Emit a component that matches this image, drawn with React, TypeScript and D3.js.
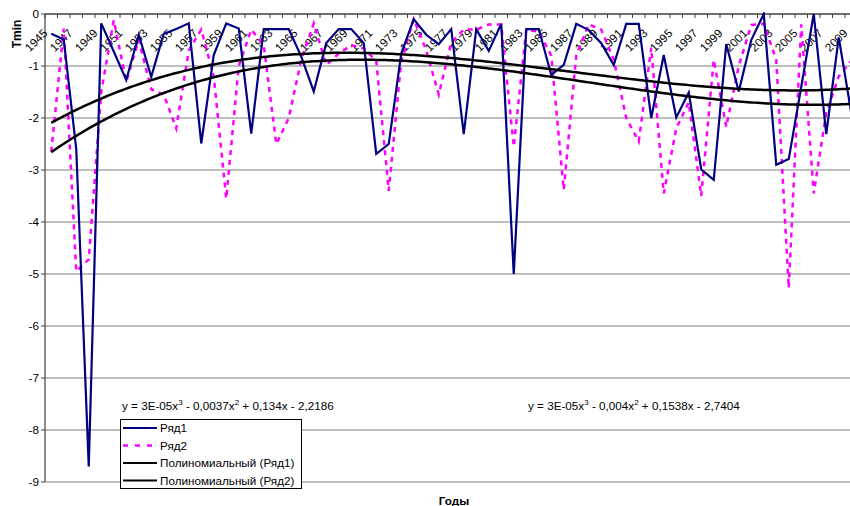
import React from "react";
import * as d3 from "d3";

const years = d3.range(1945, 2010);

const ryad1 = [
  -0.38, -0.49, -2.6, -8.7, -0.18, -0.72, -1.27, -0.4, -1.21, -0.38,
  -0.29, -0.18, -2.49, -0.79, -0.18, -0.28, -2.3, -0.29, -0.29, -0.29,
  -0.82, -1.49, -0.56, -0.29, -0.29, -0.56, -2.69, -2.5, -0.76, -0.1,
  -0.4, -0.58, -0.29, -2.31, -0.29, -0.71, -0.19, -5.0, -0.29, -0.29,
  -1.17, -0.98, -0.19, -0.31, -0.56, -0.98, -0.19, -0.19, -2.0, -0.79,
  -1.99, -1.51, -2.99, -3.19, -0.58, -1.49, -0.5, 0.0, -2.9, -2.79,
  -1.4, 0.0, -2.31, -0.45, -1.9,
];

const ryad2 = [
  -2.65, -0.28, -4.95, -4.72, -1.5, -0.12, -1.3, -0.5, -1.45, -1.55,
  -2.2, -0.7, -0.3, -1.2, -3.55, -1.0, -0.3, -0.6, -2.5, -2.0,
  -0.88, -0.18, -0.98, -0.76, -0.6, -0.66, -0.9, -3.4, -0.9, -0.1,
  -0.7, -1.55, -0.55, -0.3, -0.3, -0.2, -0.2, -2.55, -0.3, -0.34,
  -0.8, -3.38, -0.8, -0.2, -0.3, -0.88, -2.0, -2.45, -0.65, -3.45,
  -2.2, -1.7, -3.5, -0.88, -2.17, -1.0, -0.21, -0.19, -0.88, -5.27,
  -0.2, -3.45, -1.9, -1.2, -0.9,
];

const yTicks = [0, -1, -2, -3, -4, -5, -6, -7, -8, -9];
const seriesNames = ["Ряд1", "Ряд2", "Полиномиальный (Ряд1)", "Полиномиальный (Ряд2)"];
const eq1 = ["y = 3E-05x", "3", " - 0,0037x", "2", " + 0,134x - 2,2186"];
const eq2 = ["y = 3E-05x", "3", " - 0,004x", "2", " + 0,1538x - 2,7404"];

if (typeof document !== "undefined") document.body.style.margin = "0";

// least squares cubic, x = 1..n like Excel trendline
function cubicCoef(vals: number[]) {
  const n = 4;
  const A = d3.range(n).map(() => new Array(n + 1).fill(0));
  vals.forEach((v, i) => {
    const x = i + 1;
    for (let r = 0; r < n; r++) {
      for (let c = 0; c < n; c++) A[r][c] += Math.pow(x, r + c);
      A[r][n] += v * Math.pow(x, r);
    }
  });
  for (let p = 0; p < n; p++) {
    let m = p;
    for (let r = p + 1; r < n; r++) if (Math.abs(A[r][p]) > Math.abs(A[m][p])) m = r;
    [A[p], A[m]] = [A[m], A[p]];
    for (let r = 0; r < n; r++) {
      if (r === p) continue;
      const f = A[r][p] / A[p][p];
      for (let c = p; c <= n; c++) A[r][c] -= f * A[p][c];
    }
  }
  return A.map((row, i) => row[n] / row[i]);
}
const poly = (c: number[]) => (x: number) => c[0] + c[1] * x + c[2] * x * x + c[3] * x * x * x;

const W = 850, H = 506;
const left = 45, top = 14, bottom = 482;
const band = 12.5;
const font = "'Liberation Sans', Arial, sans-serif";
const fs = 11.7;

export default function App() {
  const x = d3.scaleBand<number>().domain(years).range([left, left + years.length * band]);
  const cx = (i: number) => (x(years[i]) as number) + x.bandwidth() / 2;
  const y = d3.scaleLinear().domain([-9, 0]).range([bottom, top]);
  // continuous position for trendline, t = 1..n
  const xt = d3.scaleLinear().domain([1, years.length]).range([cx(0), cx(years.length - 1)]);

  const line = d3.line<number>().x((_, i) => cx(i)).y((d) => y(d));
  const c1 = cubicCoef(ryad1);
  const c2 = cubicCoef(ryad2);
  const trendLine = (f: (x: number) => number) =>
    d3.line<number>().x((t) => xt(t)).y((t) => y(f(t)))(d3.range(1, years.length + 0.01, 0.25));

  const right = W;
  const legendY = [428, 445.5, 463, 480.5];

  return (
    <svg width={W} height={H} style={{ display: "block" }} fontFamily={font}>
      <rect width={W} height={H} fill="#fff" />
      <defs>
        <clipPath id="plot">
          <rect x={left} y={top - 2} width={right - left} height={bottom - top + 4} />
        </clipPath>
      </defs>
      {yTicks.map((t) => (
        <g key={t}>
          {t !== 0 && <line x1={left} x2={right} y1={y(t)} y2={y(t)} stroke="#808080" strokeWidth={1.2} />}
          <line x1={left - 4} x2={left} y1={y(t)} y2={y(t)} stroke="#404040" />
          <text x={left - 6} y={y(t)} dy="0.35em" textAnchor="end" fontSize={fs} fill="#000">
            {t}
          </text>
        </g>
      ))}
      <line x1={left} x2={left} y1={top} y2={bottom} stroke="#404040" strokeWidth={1.2} />
      <line x1={left} x2={right} y1={top} y2={top} stroke="#404040" strokeWidth={1.5} />
      {d3.range(years.length + 1).map((k) => (
        <line key={k} x1={left + k * band} x2={left + k * band} y1={top} y2={top + 4} stroke="#404040" />
      ))}
      {years.map((yr, i) =>
        i % 2 === 0 ? (
          <text key={yr} transform={`translate(${Math.min(cx(i) - 3, 849)},34) rotate(-45)`} textAnchor="end" fontSize={fs} fill="#000">
            {yr}
          </text>
        ) : null
      )}
      <g clipPath="url(#plot)" fill="none">
        <path d={line(ryad2) ?? ""} stroke="#ff00ff" strokeWidth={2.5} strokeDasharray="5,5" />
        <path d={line(ryad1) ?? ""} stroke="#000080" strokeWidth={2.2} />
        <path d={trendLine(poly(c1)) ?? ""} stroke="#000" strokeWidth={2.5} />
        <path d={trendLine(poly(c2)) ?? ""} stroke="#000" strokeWidth={2.5} />
      </g>
      <text x={17} y={34} transform="rotate(-90 17 34)" textAnchor="middle" dy="0.35em" fontSize={12} fontWeight="bold">
        Tmin
      </text>
      <text x={454} y={505} textAnchor="middle" fontSize={fs} fontWeight="bold">
        Годы
      </text>
      {[eq1, eq2].map((eq, k) => (
        <text key={k} x={k === 0 ? 122 : 528} y={410} fontSize={fs}>
          {eq[0]}
          <tspan dy={-5} fontSize={8}>{eq[1]}</tspan>
          <tspan dy={5}>{eq[2]}</tspan>
          <tspan dy={-5} fontSize={8}>{eq[3]}</tspan>
          <tspan dy={5}>{eq[4]}</tspan>
        </text>
      ))}
      <rect x={120.5} y={419.5} width={181} height={69} fill="#fff" stroke="#000" />
      {seriesNames.map((s, k) => (
        <g key={s}>
          <line
            x1={123}
            x2={157}
            y1={legendY[k]}
            y2={legendY[k]}
            stroke={k === 0 ? "#000080" : k === 1 ? "#ff00ff" : "#000"}
            strokeWidth={k === 1 ? 2.5 : 2}
            strokeDasharray={k === 1 ? "5,7" : undefined}
          />
          <text x={160} y={legendY[k]} dy="0.35em" fontSize={fs}>
            {s}
          </text>
        </g>
      ))}
    </svg>
  );
}
